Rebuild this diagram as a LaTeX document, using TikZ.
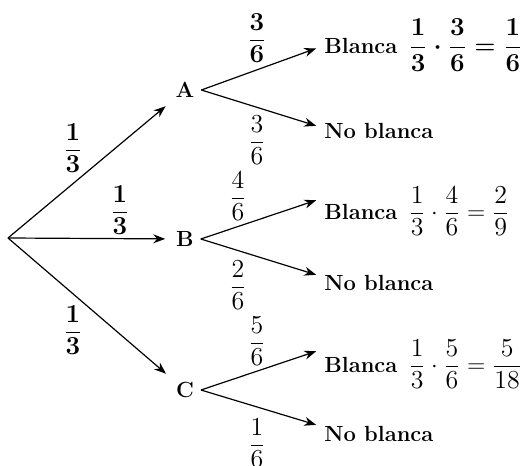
\documentclass[tikz,border=0pt]{standalone}
\usepackage{amsmath}
\usetikzlibrary{arrows.meta,positioning}
\newcommand{\fr}[2]{\ensuremath{\dfrac{\text{#1}}{\text{#2}}}}
\newcommand{\bfr}[2]{\ensuremath{\dfrac{\textbf{#1}}{\textbf{#2}}}}
\newcommand{\fracsize}{\fontsize{13}{15}\selectfont}

\begin{document}
\begin{tikzpicture}[x=0.5bp,y=-0.5bp,
  every node/.style={font=\fontsize{11}{13}\selectfont},
  choice/.style={font=\fontsize{11}{13}\selectfont\bfseries},
  leaf/.style={anchor=west,inner sep=2pt},
  branch/.style={-{Stealth[length=6pt,width=4.5pt]},line width=0.6pt,shorten >=2pt},
  prob/.style={inner sep=1pt,font=\fracsize}]
\useasboundingbox (0,0) rectangle (526,466);

% first stage
\coordinate (root) at (8,238);
\node[choice] (A) at (185,90) {A};
\node[choice] (B) at (185,239) {B};
\node[choice] (C) at (185,390) {C};
\draw[branch] (root) -- (A);
\draw[branch] (root) -- (B);
\draw[branch] (root) -- (C);
\node[prob] (pA) at (73,148) {\bfr{1}{3}};
\node[prob] (pB) at (120,210) {\bfr{1}{3}};
\node[prob] (pC) at (73,330) {\bfr{1}{3}};

% second stage
\node[leaf] (A1) at (320,45) {\textbf{Blanca}\enspace{\fracsize\boldmath$\bfr{1}{3}\cdot\bfr{3}{6}=\bfr{1}{6}$}};
\node[leaf] (A2) at (320,131) {\textbf{No blanca}};
\node[leaf] (B1) at (320,211) {\textbf{Blanca}\enspace{\fracsize$\fr{1}{3}\cdot\fr{4}{6}=\fr{2}{9}$}};
\node[leaf] (B2) at (320,283) {\textbf{No blanca}};
\node[leaf] (C1) at (320,364) {\textbf{Blanca}\enspace{\fracsize$\fr{1}{3}\cdot\fr{5}{6}=\fr{5}{18}$}};
\node[leaf] (C2) at (320,434) {\textbf{No blanca}};
\foreach \p/\q/\d in {A/A1/-1bp,A/A2/2bp,B/B1/6bp,B/B2/3.5bp,C/C1/7bp,C/C2/4bp}
  \draw[branch] (\p.east) -- ([yshift=\d]\q.west);
\node[prob] (pA1) at (257,38) {\bfr{3}{6}};
\node[prob] (pA2) at (257,140) {\fr{3}{6}};
\node[prob] (pB1) at (238,196) {\fr{4}{6}};
\node[prob] (pB2) at (238,285) {\fr{2}{6}};
\node[prob] (pC1) at (257,341) {\fr{5}{6}};
\node[prob] (pC2) at (257,443) {\fr{1}{6}};
\end{tikzpicture}
\end{document}
